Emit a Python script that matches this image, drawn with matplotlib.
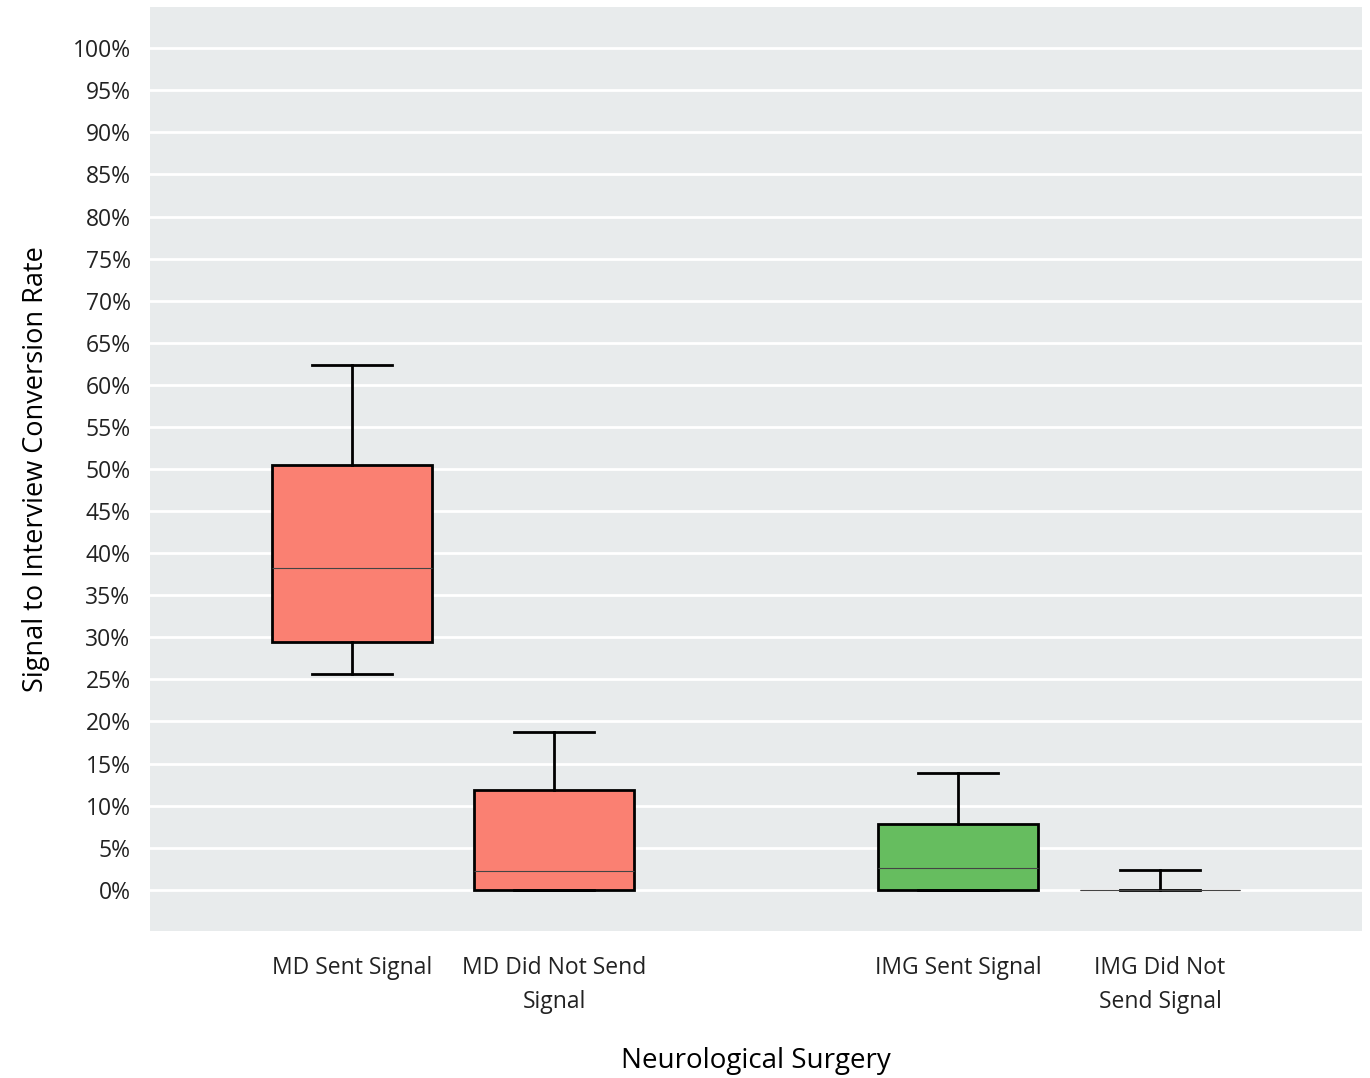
import numpy as np
import matplotlib
matplotlib.use('Agg')
import matplotlib.pyplot as plt
from matplotlib.ticker import MultipleLocator, FuncFormatter

# box statistics (percent)
labels = ['MD Sent Signal', 'MD Did Not Send\nSignal', 'IMG Sent Signal', 'IMG Did Not\nSend Signal']
positions = [0, 1, 3, 4]
whislo = [25.6, 0.0, 0.0, 0.0]
q1 = [29.4, 0.0, 0.0, 0.0]
med = [38.2, 2.2, 2.6, 0.0]
q3 = [50.5, 11.8, 7.8, 0.0]
whishi = [62.4, 18.7, 13.9, 2.4]
colors = ['#FA8072', '#FA8072', '#66BD5F', '#66BD5F']

plt.rcParams['font.family'] = ['Open Sans', 'DejaVu Sans']

stats = []
for i in range(len(labels)):
    stats.append({'whislo': whislo[i], 'q1': q1[i], 'med': med[i], 'q3': q3[i],
                  'whishi': whishi[i], 'fliers': [], 'label': labels[i]})

fig = plt.figure(figsize=(13.7, 10.78), dpi=100)
ax = fig.add_axes([150/1370, 1-931/1078, 1212/1370, 924/1078])
ax.set_facecolor('#E8EBEC')

bp = ax.bxp(stats, positions=positions, widths=0.79, patch_artist=True, showfliers=False,
            boxprops=dict(linewidth=2, edgecolor='black'),
            medianprops=dict(color='#444444', linewidth=0.8),
            whiskerprops=dict(linewidth=2, color='black'),
            capprops=dict(linewidth=2, color='black'),
            capwidths=0.4, zorder=3)
for patch, c in zip(bp['boxes'], colors):
    patch.set_facecolor(c)
# flat box for IMG Did Not Send Signal is just a thin line
bp['boxes'][3].set_linewidth(0.8)
bp['boxes'][3].set_edgecolor('#444444')

ax.set_xlim(-1, 5)
ax.set_ylim(-4.9, 104.9)
ax.yaxis.set_major_locator(MultipleLocator(5))
ax.yaxis.set_major_formatter(FuncFormatter(lambda v, p: '{:.0f}%'.format(v)))
ax.grid(axis='y', color='white', linewidth=2, zorder=0)
ax.set_axisbelow(True)
for s in ax.spines.values():
    s.set_visible(False)
ax.tick_params(axis='y', length=0, labelsize=16.5, colors='#222222', pad=14)
ax.tick_params(axis='x', length=0, labelsize=16.5, colors='#222222', pad=18)
ax.set_xticks(positions)
ax.set_xticklabels(labels, linespacing=1.55)

ax.set_ylabel('Signal to Interview Conversion Rate', fontsize=19.5, labelpad=16)
ax.set_xlabel('Neurological Surgery', fontsize=20, labelpad=24)

fig.savefig('out.png', dpi=100)
